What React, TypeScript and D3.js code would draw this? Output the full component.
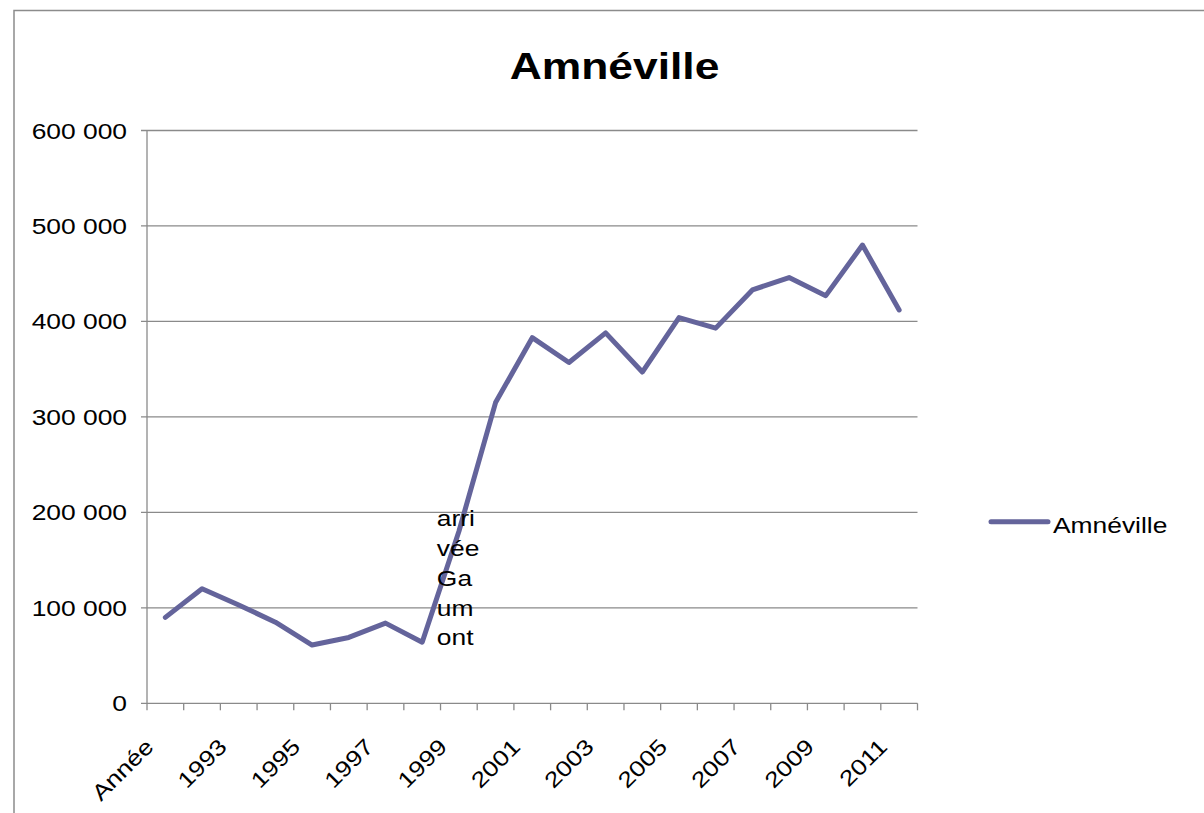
import React from "react";
import * as d3 from "d3";

const categories: string[] = [
  "Année", "1992", "1993", "1994", "1995", "1996", "1997", "1998", "1999", "2000",
  "2001", "2002", "2003", "2004", "2005", "2006", "2007", "2008", "2009", "2010", "2011",
];
const seriesName = "Amnéville";
const values: number[] = [
  90000, 120000, 103000, 85000, 61000, 69000, 84000, 64000, 180000, 315000,
  383000, 357000, 388000, 347000, 404000, 393000, 433000, 446000, 427000, 480000, 412000,
];
const yTicks: number[] = [0, 100000, 200000, 300000, 400000, 500000, 600000];
const annotationIndex = 8;
const annotationLines: string[] = ["arri", "vée", "Ga", "um", "ont"];
const title = "Amnéville";

const FONT = "'Liberation Sans', Arial, sans-serif";
const SX = 1.2;
const LINE_COLOR = "#64649b";
const GRID = "#8a8a8a";

const fmt = (v: number) => (v === 0 ? "0" : d3.format(",")(v).replace(/,/g, " "));

export default function App() {
  const x = d3.scaleBand<string>().domain(categories).range([147, 917.5]).padding(0);
  const y = d3.scaleLinear().domain([0, 600000]).range([703.3, 130.5]);
  const cx = (c: string) => (x(c) as number) + x.bandwidth() / 2;

  const line = d3
    .line<number>()
    .x((_, i) => cx(categories[i]))
    .y((d) => y(d));

  const ax = cx(categories[annotationIndex]);
  const ay = y(values[annotationIndex]);

  const boundaries = d3.range(categories.length + 1).map((i) => 147 + i * x.bandwidth());

  return (
    <svg
      width={1204}
      height={813}
      style={{ position: "absolute", left: 0, top: 0, background: "#fff" }}
      fontFamily={FONT}
    >
      <rect x={14} y={10.5} width={1400} height={1000} fill="#fff" stroke="#8c8c8c" strokeWidth={1.5} />

      <text
        transform={`translate(614.5,79.3) scale(${SX},1)`}
        textAnchor="middle"
        fontWeight="bold"
        fontSize={37}
        fill="#000"
      >
        {title}
      </text>

      {/* gridlines */}
      {yTicks.map((t) => (
        <line key={"g" + t} x1={141} x2={917.5} y1={y(t)} y2={y(t)} stroke={GRID} strokeWidth={1.3} />
      ))}
      {/* y axis */}
      <line x1={147} x2={147} y1={y(600000)} y2={y(0)} stroke={GRID} strokeWidth={1.3} />
      {yTicks.map((t) => (
        <text
          key={"yl" + t}
          transform={`translate(127,${y(t) + 8}) scale(${SX},1)`}
          textAnchor="end"
          fontSize={22}
          fill="#000"
        >
          {fmt(t)}
        </text>
      ))}
      {/* x axis ticks */}
      {boundaries.map((b, i) => (
        <line key={"xt" + i} x1={b} x2={b} y1={y(0)} y2={y(0) + 7} stroke={GRID} strokeWidth={1.3} />
      ))}
      {categories.map((c, i) =>
        i % 2 === 0 ? (
          <text
            key={"xl" + c}
            transform={`translate(${cx(c) - 10.5},748) rotate(-45) scale(${SX},1)`}
            textAnchor="end"
            fontSize={22}
            fill="#000"
          >
            {c}
          </text>
        ) : null
      )}

      <path
        d={line(values) || ""}
        fill="none"
        stroke={LINE_COLOR}
        strokeWidth={5}
        strokeLinejoin="round"
        strokeLinecap="round"
      />

      {annotationLines.map((s, i) => (
        <text
          key={"an" + i}
          transform={`translate(${ax - 22},${ay - 5 + i * 29.75}) scale(${SX},1)`}
          fontSize={22}
          fill="#000"
        >
          {s}
        </text>
      ))}

      {/* legend */}
      <line x1={991} x2={1048} y1={521.7} y2={521.7} stroke={LINE_COLOR} strokeWidth={5} strokeLinecap="round" />
      <text transform={`translate(1053,533) scale(${SX},1)`} fontSize={22} fill="#000">
        {seriesName}
      </text>
    </svg>
  );
}
